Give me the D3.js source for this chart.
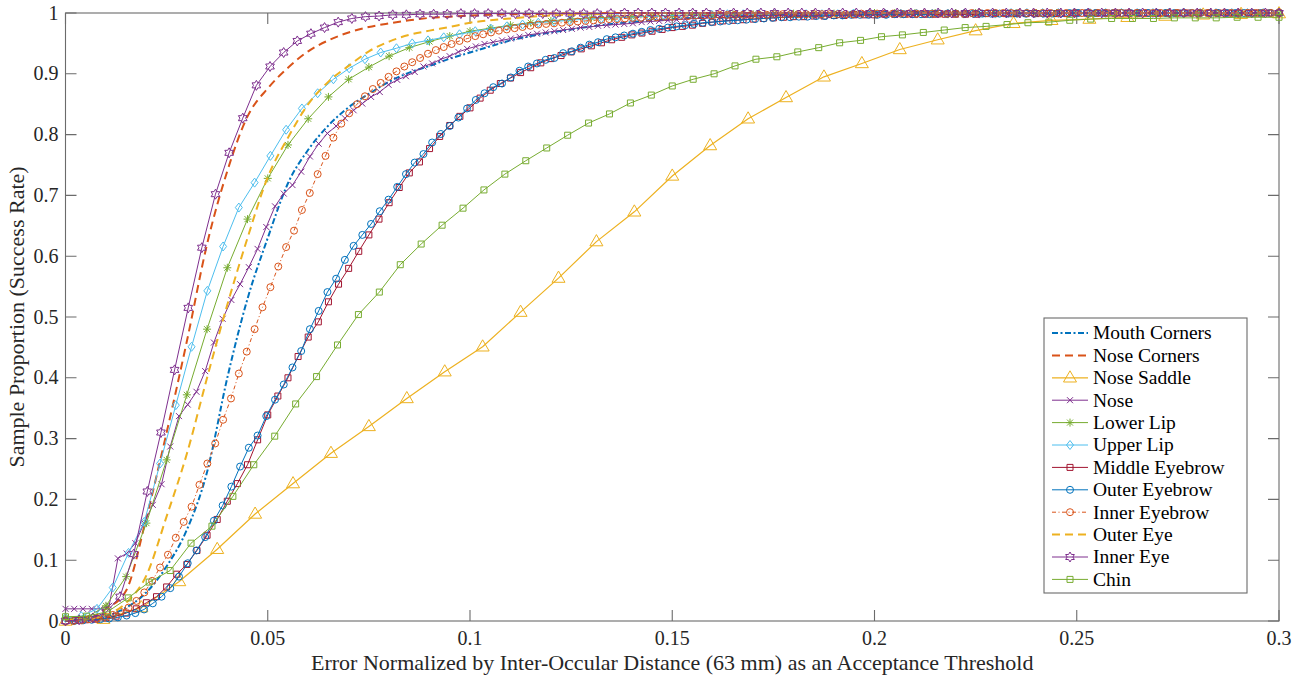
<!DOCTYPE html>
<html lang="en">
  <head>
    <meta charset="UTF-8" />
    <title>ced-landmarks</title>
    <style>
      body {
        margin: 0;
        background: #fff;
      }
      svg {
        display: block;
        font-family: "Liberation Serif", "Times New Roman", serif;
      }
      .tick-label {
        font-size: 20px;
        fill: #262626;
      }
      .axis-title {
        font-size: 22px;
        fill: #262626;
        text-anchor: middle;
      }
      .legend-label {
        font-size: 19.5px;
        fill: #000;
      }
    </style>
  </head>
  <body>
    <script src="https://cdn.jsdelivr.net/npm/d3@7"></script>
    <script>
      // thresholds run evenly from 0 to xMax, one value per sample
      const xMax = 0.3;

      const seriesNames = [
        "Mouth Corners", "Nose Corners", "Nose Saddle", "Nose", "Lower Lip", "Upper Lip",
        "Middle Eyebrow", "Outer Eyebrow", "Inner Eyebrow", "Outer Eye", "Inner Eye", "Chin"
      ];

      const mouthCorners = [
        0.002, 0.003, 0.008, 0.022, 0.047, 0.09, 0.15, 0.245, 0.40, 0.53,
        0.63, 0.72, 0.775, 0.815, 0.845, 0.867, 0.887, 0.902, 0.913, 0.925,
        0.935, 0.945, 0.955, 0.962, 0.968, 0.973, 0.978, 0.982, 0.985, 0.988,
        0.99, 0.992, 0.994, 0.995, 0.996, 0.997, 0.998, 0.998, 0.999, 0.999,
        1, 1, 1, 1, 1, 1, 1, 1, 1, 1,
        1, 1, 1, 1, 1, 1, 1, 1, 1, 1, 1
      ];
      const noseCorners = [
        0.002, 0.003, 0.02, 0.05, 0.17, 0.31, 0.46, 0.62, 0.74, 0.83,
        0.876, 0.91, 0.937, 0.955, 0.968, 0.977, 0.983, 0.988, 0.992, 0.994,
        0.996, 0.997, 0.998, 0.998, 0.999, 0.999, 0.999, 1, 1, 1,
        1, 1, 1, 1, 1, 1, 1, 1, 1, 1,
        1, 1, 1, 1, 1, 1, 1, 1, 1, 1,
        1, 1, 1, 1, 1, 1, 1, 1, 1, 1, 1
      ];
      const noseSaddle = [
        0, 0.003, 0.022, 0.065, 0.118, 0.176, 0.226, 0.276, 0.32, 0.366,
        0.41, 0.451, 0.508, 0.564, 0.624, 0.673, 0.732, 0.782, 0.826, 0.861,
        0.895, 0.917, 0.94, 0.956, 0.971, 0.983, 0.988, 0.99, 0.993, 0.995,
        0.997, 0.998, 0.999
      ];
      const nose = [
        0.02, 0.02, 0.02, 0.02, 0.02, 0.025, 0.103, 0.111, 0.128, 0.161,
        0.191, 0.225, 0.287, 0.337, 0.356, 0.377, 0.411, 0.458, 0.497, 0.528,
        0.554, 0.582, 0.612, 0.648, 0.682, 0.703, 0.717, 0.739, 0.764, 0.785,
        0.802, 0.814, 0.827, 0.84, 0.851, 0.862, 0.87, 0.882, 0.89, 0.896,
        0.903, 0.912, 0.917, 0.924, 0.929, 0.936, 0.941, 0.945, 0.949, 0.952,
        0.955, 0.958, 0.961, 0.964, 0.966, 0.968, 0.97, 0.972, 0.974, 0.976,
        0.977, 0.979, 0.98, 0.981, 0.982, 0.983, 0.985, 0.986, 0.987, 0.988,
        0.989, 0.99, 0.991, 0.991, 0.992, 0.993, 0.993, 0.994, 0.994, 0.995,
        0.995, 0.996, 0.996, 0.996, 0.996, 0.996, 0.996, 0.997, 0.997, 0.997,
        0.997, 0.997, 0.997, 0.997, 0.997, 0.997, 0.998, 0.998, 0.998, 0.998,
        0.998, 0.998, 0.998, 0.998, 0.998, 0.998, 0.999, 0.999, 0.999, 0.999,
        0.999, 0.999, 0.999, 0.999, 0.999, 0.999, 0.999, 0.999, 0.999, 0.999,
        0.999, 1, 1, 1, 1, 1, 1, 1, 1, 1,
        1, 1, 1, 1, 1, 1, 1, 1, 1, 1
      ];
      const lowerLip = [
        0.005, 0.005, 0.025, 0.073, 0.161, 0.265, 0.372, 0.48, 0.581, 0.661,
        0.728, 0.783, 0.826, 0.862, 0.891, 0.911, 0.929, 0.943, 0.953, 0.962,
        0.97, 0.975, 0.98, 0.984, 0.987, 0.99, 0.992, 0.993, 0.994, 0.995,
        0.996, 0.997, 0.997, 0.998, 0.998, 0.998, 0.999, 0.999, 0.999, 0.999,
        1, 1, 1, 1, 1, 1, 1, 1, 1, 1,
        1, 1, 1, 1, 1, 1, 1, 1, 1, 1, 1
      ];
      const upperLip = [
        0.005, 0.008, 0.02, 0.055, 0.112, 0.163, 0.259, 0.355, 0.451, 0.543,
        0.616, 0.68, 0.721, 0.765, 0.808, 0.843, 0.868, 0.891, 0.909, 0.924,
        0.935, 0.942, 0.95, 0.955, 0.96, 0.965, 0.97, 0.974, 0.978, 0.981,
        0.984, 0.986, 0.988, 0.99, 0.991, 0.992, 0.993, 0.994, 0.995, 0.996,
        0.996, 0.997, 0.998, 0.998, 0.998, 0.998, 0.998, 0.998, 0.998, 0.998,
        0.999, 0.999, 0.999, 0.999, 0.999, 0.999, 0.999, 0.999, 0.999, 0.999,
        1, 1, 1, 1, 1, 1, 1, 1, 1, 1,
        1, 1, 1, 1, 1, 1, 1, 1
      ];
      const middleEyebrow = [
        0, 0.001, 0.002, 0.003, 0.005, 0.008, 0.013, 0.02, 0.03, 0.04,
        0.056, 0.077, 0.093, 0.116, 0.141, 0.167, 0.197, 0.226, 0.257, 0.298,
        0.339, 0.37, 0.40, 0.435, 0.467, 0.492, 0.525, 0.554, 0.58, 0.608,
        0.635, 0.661, 0.688, 0.713, 0.737, 0.755, 0.777, 0.797, 0.815, 0.83,
        0.844, 0.86, 0.873, 0.884, 0.893, 0.902, 0.91, 0.918, 0.925, 0.93,
        0.936, 0.941, 0.946, 0.951, 0.956, 0.96, 0.964, 0.967, 0.97, 0.973,
        0.976, 0.978, 0.98, 0.983, 0.985, 0.987, 0.988, 0.989, 0.99, 0.991,
        0.992, 0.993, 0.994, 0.994, 0.995, 0.995, 0.996, 0.996, 0.997, 0.997,
        0.997, 0.998, 0.998, 0.998, 0.998, 0.998, 0.998, 0.998, 0.998, 0.998,
        0.998, 0.999, 0.999, 0.999, 0.999, 0.999, 0.999, 0.999, 0.999, 0.999,
        1, 1, 1, 1, 1, 1, 1, 1, 1, 1,
        1, 1, 1, 1, 1, 1, 1, 1, 1, 1, 1
      ];
      const outerEyebrow = [
        0, 0, 0.001, 0.002, 0.003, 0.004, 0.006, 0.009, 0.013, 0.019,
        0.029, 0.04, 0.054, 0.073, 0.095, 0.116, 0.138, 0.165, 0.19, 0.221,
        0.254, 0.285, 0.305, 0.337, 0.364, 0.389, 0.417, 0.444, 0.48, 0.51,
        0.541, 0.563, 0.594, 0.617, 0.635, 0.653, 0.674, 0.693, 0.714, 0.735,
        0.754, 0.768, 0.787, 0.801, 0.814, 0.828, 0.843, 0.857, 0.868, 0.878,
        0.884, 0.894, 0.905, 0.912, 0.917, 0.923, 0.926, 0.934, 0.937, 0.943,
        0.948, 0.952, 0.957, 0.96, 0.963, 0.966, 0.969, 0.972, 0.974, 0.976,
        0.978, 0.98, 0.982, 0.984, 0.985, 0.986, 0.987, 0.988, 0.989, 0.99,
        0.991, 0.992, 0.993, 0.993, 0.994, 0.994, 0.995, 0.995, 0.996, 0.996,
        0.997, 0.997, 0.997, 0.997, 0.997, 0.998, 0.998, 0.998, 0.998, 0.998,
        0.999, 0.999, 0.999, 0.999, 0.999, 0.999, 0.999, 0.999, 0.999, 0.999,
        0.999, 0.999, 0.999, 0.999, 0.999, 1, 1, 1, 1, 1,
        1, 1, 1, 1, 1, 1, 1, 1, 1, 1,
        1, 1, 1, 1, 1, 1, 1, 1, 1, 1
      ];
      const innerEyebrow = [
        0, 0, 0.001, 0.003, 0.004, 0.007, 0.01, 0.015, 0.022, 0.033,
        0.047, 0.066, 0.088, 0.109, 0.137, 0.163, 0.188, 0.224, 0.259, 0.292,
        0.331, 0.366, 0.407, 0.443, 0.48, 0.516, 0.549, 0.583, 0.615, 0.642,
        0.676, 0.704, 0.735, 0.765, 0.795, 0.818, 0.835, 0.85, 0.863, 0.875,
        0.885, 0.895, 0.904, 0.912, 0.919, 0.926, 0.933, 0.939, 0.944, 0.949,
        0.954, 0.958, 0.962, 0.965, 0.968, 0.971, 0.973, 0.975, 0.977, 0.979,
        0.981, 0.982, 0.983, 0.984, 0.985, 0.986, 0.987, 0.988, 0.989, 0.99,
        0.99, 0.991, 0.992, 0.992, 0.993, 0.993, 0.994, 0.994, 0.995, 0.995,
        0.996, 0.996, 0.996, 0.997, 0.997, 0.997, 0.997, 0.997, 0.997, 0.997,
        0.998, 0.998, 0.998, 0.998, 0.998, 0.998, 0.998, 0.998, 0.998, 0.998,
        0.998, 0.999, 0.999, 0.999, 0.999, 0.999, 0.999, 0.999, 0.999, 0.999,
        0.999, 0.999, 0.999, 0.999, 0.999, 1, 1, 1, 1, 1,
        1, 1, 1, 1, 1, 1, 1, 1, 1, 1,
        1, 1, 1, 1, 1, 1, 1, 1, 1, 1,
        1, 1, 1, 1, 1, 1, 1, 1, 1, 1,
        1, 1, 1, 1, 1
      ];
      const outerEye = [
        0.002, 0.003, 0.01, 0.03, 0.075, 0.172, 0.275, 0.40, 0.52, 0.63,
        0.73, 0.795, 0.85, 0.887, 0.913, 0.937, 0.953, 0.964, 0.971, 0.977,
        0.984, 0.988, 0.991, 0.994, 0.996, 0.997, 0.998, 0.999, 1, 1,
        1, 1, 1, 1, 1, 1, 1, 1, 1, 1,
        1, 1, 1, 1, 1, 1, 1, 1, 1, 1,
        1, 1, 1, 1, 1, 1, 1, 1, 1, 1, 1
      ];
      const innerEye = [
        0, 0.002, 0.005, 0.015, 0.04, 0.11, 0.213, 0.31, 0.413, 0.515,
        0.614, 0.702, 0.77, 0.827, 0.881, 0.912, 0.935, 0.954, 0.966, 0.976,
        0.985, 0.991, 0.994, 0.995, 0.997, 0.997, 0.998, 0.998, 0.998, 0.999,
        0.999, 0.999, 0.999, 0.999, 0.999, 0.999, 0.999, 0.999, 0.999, 0.999,
        0.999, 1, 1, 1, 1, 1, 1, 1, 1, 1,
        1, 1, 1, 1, 1, 1, 1, 1, 1, 1,
        1, 1, 1, 1, 1, 1, 1, 1, 1, 1,
        1, 1, 1, 1, 1, 1, 1, 1, 1, 1,
        1, 1, 1, 1, 1, 1, 1, 1, 1, 1
      ];
      const chin = [
        0.007, 0.008, 0.015, 0.038, 0.064, 0.083, 0.128, 0.156, 0.205, 0.257,
        0.304, 0.357, 0.402, 0.454, 0.504, 0.541, 0.586, 0.62, 0.651, 0.679,
        0.709, 0.735, 0.757, 0.778, 0.799, 0.819, 0.834, 0.852, 0.865, 0.88,
        0.891, 0.9, 0.913, 0.924, 0.928, 0.936, 0.943, 0.951, 0.955, 0.961,
        0.964, 0.968, 0.972, 0.976, 0.978, 0.981, 0.984, 0.985, 0.988, 0.99,
        0.991, 0.991, 0.991, 0.992, 0.992, 0.992, 0.993, 0.993, 0.993
      ];

      const xTicks = [0, 0.05, 0.1, 0.15, 0.2, 0.25, 0.3];
      const yTicks = [0, 0.1, 0.2, 0.3, 0.4, 0.5, 0.6, 0.7, 0.8, 0.9, 1];

      const xTitle = "Error Normalized by Inter-Occular Distance (63 mm) as an Acceptance Threshold";
      const yTitle = "Sample Proportion (Success Rate)";

      // styling per series (matlab default colour order)
      const styles = [
        { color: "#0072BD", width: 2, dash: "6,2.5,2,2.5", marker: null },
        { color: "#D95319", width: 2, dash: "8,5", marker: null },
        { color: "#EDB120", width: 1.2, dash: null, marker: "triangle" },
        { color: "#7E2F8E", width: 1, dash: null, marker: "x" },
        { color: "#77AC30", width: 1, dash: null, marker: "asterisk" },
        { color: "#4DBEEE", width: 1, dash: null, marker: "diamond" },
        { color: "#A2142F", width: 1, dash: null, marker: "square" },
        { color: "#0072BD", width: 1, dash: null, marker: "circle" },
        { color: "#D95319", width: 1, dash: "4,2.5,1,2.5", marker: "circle" },
        { color: "#EDB120", width: 2, dash: "8,5", marker: null },
        { color: "#7E2F8E", width: 1, dash: null, marker: "hexagram" },
        { color: "#77AC30", width: 1, dash: null, marker: "square" }
      ];

      const values = [
        mouthCorners, noseCorners, noseSaddle, nose, lowerLip, upperLip,
        middleEyebrow, outerEyebrow, innerEyebrow, outerEye, innerEye, chin
      ];

      const series = seriesNames.map((name, i) => ({
        name: name,
        style: styles[i],
        points: values[i].map((v, k) => [(k * xMax) / (values[i].length - 1), v])
      }));

      const width = 1302;
      const height = 681;
      const plotLeft = 65.5;
      const plotRight = 1279;
      const plotTop = 13;
      const plotBottom = 621;
      const tickLen = 11;
      const axisColor = "#6b6b6b";

      const x = d3.scaleLinear().domain([0, xMax]).range([plotLeft, plotRight]);
      const y = d3.scaleLinear().domain([0, 1]).range([plotBottom, plotTop]);

      function markerPath(type) {
        if (type === "circle") return "M3.5,0A3.5,3.5 0 1,1 -3.5,0A3.5,3.5 0 1,1 3.5,0Z";
        if (type === "square") return "M-3,-3H3V3H-3Z";
        if (type === "diamond") return "M0,-4.5L3.5,0L0,4.5L-3.5,0Z";
        if (type === "triangle") return "M0,-7L6.5,4.2L-6.5,4.2Z";
        if (type === "x") return "M-3,-3L3,3M-3,3L3,-3";
        if (type === "asterisk") return "M-4,0H4M0,-4V4M-3,-3L3,3M-3,3L3,-3";
        if (type === "hexagram") {
          const pts = d3.range(12).map(i => {
            const r = i % 2 === 0 ? 5 : 2.9;
            const a = -Math.PI / 2 + (i * Math.PI) / 6;
            return [r * Math.cos(a), r * Math.sin(a)];
          });
          return "M" + pts.map(p => p.join(",")).join("L") + "Z";
        }
        return "";
      }

      const svg = d3
        .select("body")
        .append("svg")
        .attr("width", width)
        .attr("height", height);

      svg.append("rect").attr("width", width).attr("height", height).attr("fill", "#fff");

      // box and inward ticks
      const axes = svg.append("g").attr("stroke", axisColor).attr("stroke-width", 1.1).attr("fill", "none");
      axes
        .append("rect")
        .attr("x", plotLeft)
        .attr("y", plotTop)
        .attr("width", plotRight - plotLeft)
        .attr("height", plotBottom - plotTop);

      axes
        .selectAll(".xt")
        .data(xTicks)
        .enter()
        .append("path")
        .attr("d", d => `M${x(d)},${plotBottom}v${-tickLen}M${x(d)},${plotTop}v${tickLen}`);

      axes
        .selectAll(".yt")
        .data(yTicks)
        .enter()
        .append("path")
        .attr("d", d => `M${plotLeft},${y(d)}h${tickLen}M${plotRight},${y(d)}h${-tickLen}`);

      svg
        .append("g")
        .selectAll("text")
        .data(xTicks)
        .enter()
        .append("text")
        .attr("class", "tick-label")
        .attr("x", d => x(d))
        .attr("y", plotBottom + 24)
        .attr("text-anchor", "middle")
        .text(d => d3.format("~g")(d));

      svg
        .append("g")
        .selectAll("text")
        .data(yTicks)
        .enter()
        .append("text")
        .attr("class", "tick-label")
        .attr("x", plotLeft - 7)
        .attr("y", d => y(d))
        .attr("dy", "0.33em")
        .attr("text-anchor", "end")
        .text(d => d3.format("~g")(d));

      svg
        .append("text")
        .attr("class", "axis-title")
        .attr("x", (plotLeft + plotRight) / 2)
        .attr("y", 670)
        .text(xTitle);

      svg
        .append("text")
        .attr("class", "axis-title")
        .attr("transform", `translate(24,${(plotTop + plotBottom) / 2}) rotate(-90)`)
        .text(yTitle);

      // curves
      const plot = svg.append("g");

      series.forEach(s => {
        const st = s.style;
        const line = d3
          .line()
          .x(d => x(d[0]))
          .y(d => y(d[1]))
          .curve(st.marker ? d3.curveLinear : d3.curveMonotoneX);

        const g = plot.append("g");
        g.append("path")
          .attr("d", line(s.points))
          .attr("fill", "none")
          .attr("stroke", st.color)
          .attr("stroke-width", st.width)
          .attr("stroke-dasharray", st.dash)
          .attr("stroke-linejoin", "round");

        if (st.marker) {
          g.selectAll(".mk")
            .data(s.points)
            .enter()
            .append("path")
            .attr("transform", d => `translate(${x(d[0])},${y(d[1])})`)
            .attr("d", markerPath(st.marker))
            .attr("fill", "none")
            .attr("stroke", st.color)
            .attr("stroke-width", 1);
        }
      });

      // legend
      const legX = 1044;
      const legY = 318;
      const legW = 203;
      const legH = 275;
      const rowGap = 22.4;

      const legend = svg.append("g");
      legend
        .append("rect")
        .attr("x", legX)
        .attr("y", legY)
        .attr("width", legW)
        .attr("height", legH)
        .attr("fill", "#fff")
        .attr("stroke", axisColor)
        .attr("stroke-width", 1.1);

      const rows = legend
        .selectAll(".row")
        .data(series)
        .enter()
        .append("g")
        .attr("transform", (d, i) => `translate(${legX}, ${legY + 15 + i * rowGap})`);

      rows
        .append("path")
        .attr("d", "M8,0H44")
        .attr("stroke", d => d.style.color)
        .attr("stroke-width", d => d.style.width)
        .attr("stroke-dasharray", d => d.style.dash)
        .attr("fill", "none");

      rows
        .filter(d => d.style.marker)
        .append("path")
        .attr("transform", "translate(26,0)")
        .attr("d", d => markerPath(d.style.marker))
        .attr("stroke", d => d.style.color)
        .attr("stroke-width", 1)
        .attr("fill", "none");

      rows
        .append("text")
        .attr("class", "legend-label")
        .attr("x", 49)
        .attr("dy", "0.33em")
        .text(d => d.name);
    </script>
  </body>
</html>
